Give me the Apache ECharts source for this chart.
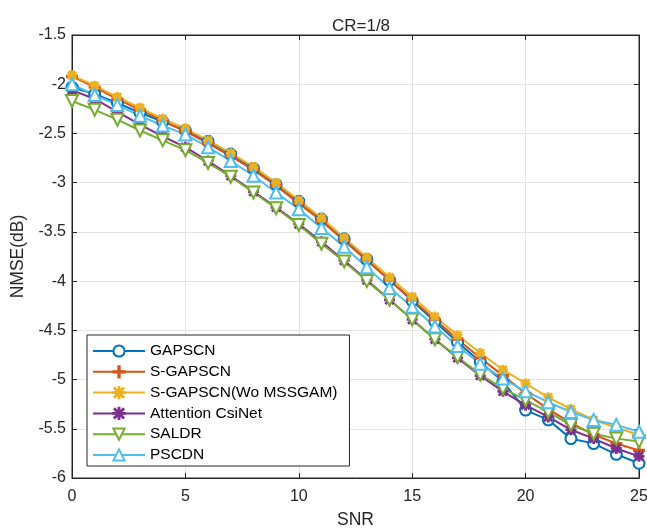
<!DOCTYPE html>
<html>
<head>
<meta charset="utf-8">
<script src="https://cdn.jsdelivr.net/npm/echarts@6/dist/echarts.min.js"></script>
<style>
  html, body { margin: 0; padding: 0; background: #fff; }
  #chart { width: 647px; height: 531px; }
</style>
</head>
<body>
<div id="chart"></div>
<script>
// SNR points (dB)
const snr = [0,1,2,3,4,5,6,7,8,9,10,11,12,13,14,15,16,17,18,19,20,21,22,23,24,25];

// NMSE(dB), CR=1/8
const gapscn   = [-2.03,-2.10,-2.19,-2.29,-2.38,-2.47,-2.58,-2.71,-2.855,-3.02,-3.19,-3.37,-3.57,-3.78,-3.99,-4.20,-4.41,-4.62,-4.82,-5.02,-5.31,-5.41,-5.60,-5.65,-5.76,-5.85];
const sGapscn  = [-1.92,-2.03,-2.15,-2.26,-2.37,-2.48,-2.60,-2.73,-2.87,-3.03,-3.21,-3.39,-3.59,-3.79,-3.99,-4.19,-4.39,-4.59,-4.78,-4.96,-5.14,-5.30,-5.44,-5.56,-5.65,-5.72];
const sGapscnWo = [-1.91,-2.015,-2.13,-2.24,-2.35,-2.45,-2.57,-2.70,-2.84,-3.00,-3.18,-3.36,-3.56,-3.76,-3.96,-4.16,-4.36,-4.55,-4.73,-4.90,-5.04,-5.18,-5.30,-5.41,-5.49,-5.56];
const attCsiNet = [-2.06,-2.15,-2.28,-2.41,-2.53,-2.64,-2.78,-2.93,-3.09,-3.25,-3.42,-3.60,-3.79,-3.99,-4.19,-4.39,-4.59,-4.78,-4.96,-5.12,-5.26,-5.38,-5.51,-5.60,-5.70,-5.78];
const saldr    = [-2.17,-2.26,-2.36,-2.47,-2.57,-2.67,-2.80,-2.94,-3.10,-3.26,-3.43,-3.62,-3.80,-4.00,-4.19,-4.39,-4.59,-4.77,-4.95,-5.09,-5.21,-5.33,-5.46,-5.55,-5.60,-5.63];
const pscdn    = [-2.00,-2.11,-2.21,-2.32,-2.42,-2.51,-2.64,-2.78,-2.93,-3.10,-3.27,-3.46,-3.65,-3.86,-4.07,-4.26,-4.46,-4.66,-4.84,-4.99,-5.12,-5.23,-5.33,-5.41,-5.46,-5.53];

const names = ['GAPSCN', 'S-GAPSCN', 'S-GAPSCN(Wo MSSGAM)', 'Attention CsiNet', 'SALDR', 'PSCDN'];
const colors = ['#0072BD', '#D95319', '#EDB120', '#7E2F8E', '#77AC30', '#4DBEEE'];

// marker shapes (matlab-ish)
const plusPath = 'path://M4.4,0H5.6V10H4.4Z M0,4.4H10V5.6H0Z';
const starPath = 'path://M4.6,0H5.4V10H4.6Z M0,4.6H10V5.4H0Z M0.8,1.4L1.4,0.8L9.2,8.6L8.6,9.2Z M8.6,0.8L9.2,1.4L1.4,9.2L0.8,8.6Z';

const axisColor = '#262626';
const font = 'Liberation Sans, Arial, sans-serif';

function mk(i, data, symbol, size, rotate) {
  return {
    name: names[i],
    type: 'line',
    data: snr.map((x, k) => [x, data[k]]),
    symbol: symbol,
    symbolSize: size,
    symbolRotate: rotate || 0,
    showAllSymbol: true,
    color: colors[i],
    lineStyle: { width: 2, color: colors[i] },
    itemStyle: { color: colors[i], borderColor: colors[i], borderWidth: 2 },
    emphasis: { disabled: true }
  };
}

const chart = echarts.init(document.getElementById('chart'), null, { renderer: 'canvas' });
chart.setOption({
  animation: false,
  backgroundColor: '#fff',
  textStyle: { fontFamily: font },
  title: {
    text: 'CR=1/8',
    left: 356, top: 13,
    textAlign: 'center',
    textStyle: { fontFamily: font, fontSize: 17, fontWeight: 'normal', color: axisColor }
  },
  grid: {
    left: 72, right: 8, top: 35, bottom: 53,
    outerBoundsMode: 'none', containLabel: false,
    show: true, borderColor: axisColor, borderWidth: 1, backgroundColor: '#fff'
  },
  legend: {
    orient: 'vertical',
    left: 87, top: 335,
    itemWidth: 52, itemHeight: 14, itemGap: 4.8,
    padding: [8, 12, 3, 5],
    backgroundColor: '#fff',
    borderColor: axisColor, borderWidth: 1,
    textStyle: { fontFamily: font, fontSize: 15.5, color: '#000' },
    data: names
  },
  xAxis: [{
    type: 'value', min: 0, max: 25, interval: 5,
    name: 'SNR', nameLocation: 'middle', nameGap: 33,
    nameTextStyle: { fontFamily: font, fontSize: 17.5, color: axisColor },
    axisLine: { show: true, onZero: false, lineStyle: { color: axisColor } },
    axisTick: { show: true, inside: true, length: 5, lineStyle: { color: axisColor } },
    axisLabel: { fontFamily: font, fontSize: 16, color: axisColor, margin: 11 },
    splitLine: { show: true, lineStyle: { color: '#e3e3e3', width: 1 } }
  }, {
    type: 'value', min: 0, max: 25, interval: 5, position: 'top',
    axisLine: { show: true, onZero: false, lineStyle: { color: axisColor } },
    axisTick: { show: true, inside: true, length: 5, lineStyle: { color: axisColor } },
    axisLabel: { show: false }, splitLine: { show: false }
  }],
  yAxis: [{
    type: 'value', min: -6, max: -1.5, interval: 0.5,
    name: 'NMSE(dB)', nameLocation: 'middle', nameGap: 44,
    nameTextStyle: { fontFamily: font, fontSize: 17.5, color: axisColor },
    axisLine: { show: true, onZero: false, lineStyle: { color: axisColor } },
    axisTick: { show: true, inside: true, length: 5, lineStyle: { color: axisColor } },
    axisLabel: { fontFamily: font, fontSize: 16, color: axisColor, margin: 6 },
    splitLine: { show: true, lineStyle: { color: '#e3e3e3', width: 1 } }
  }, {
    type: 'value', min: -6, max: -1.5, interval: 0.5, position: 'right',
    axisLine: { show: true, onZero: false, lineStyle: { color: axisColor } },
    axisTick: { show: true, inside: true, length: 5, lineStyle: { color: axisColor } },
    axisLabel: { show: false }, splitLine: { show: false }
  }],
  series: [
    mk(0, gapscn, 'emptyCircle', 11),
    mk(1, sGapscn, plusPath, 10),
    mk(2, sGapscnWo, starPath, 8),
    mk(3, attCsiNet, starPath, 9),
    mk(4, saldr, 'emptyTriangle', 12, 180),
    mk(5, pscdn, 'emptyTriangle', 12)
  ]
});
</script>
</body>
</html>
